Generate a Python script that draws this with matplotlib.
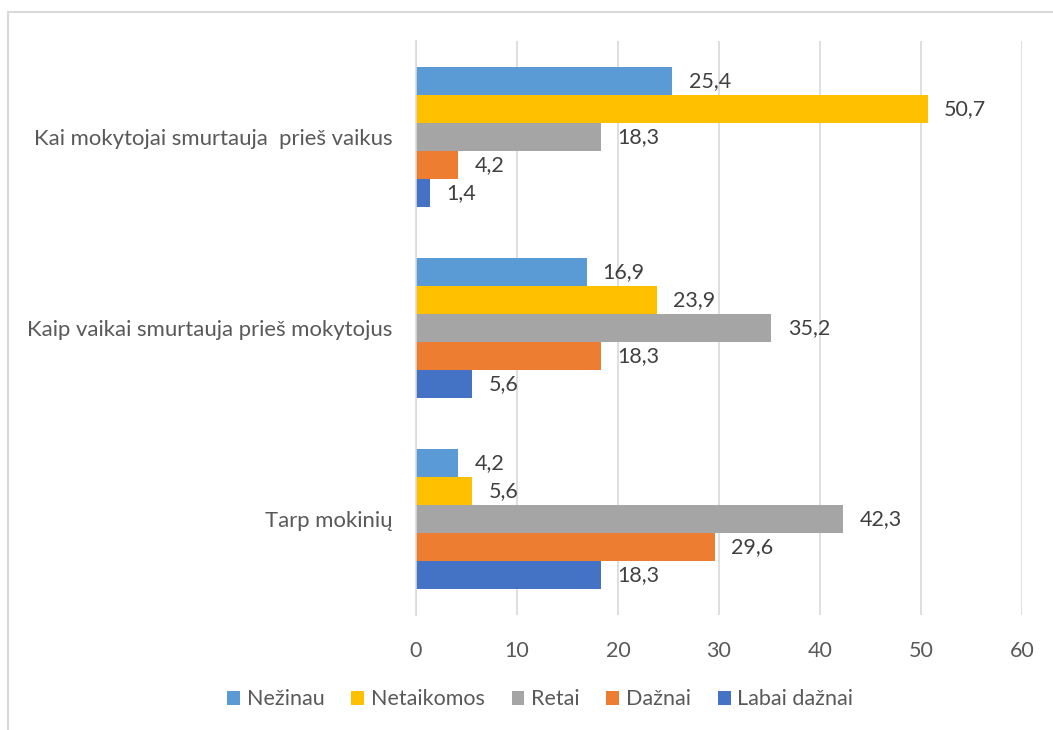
import numpy as np
import matplotlib
matplotlib.use('Agg')
import matplotlib.pyplot as plt
from matplotlib.patches import Rectangle

plt.rcParams['font.family'] = ['Lato', 'DejaVu Sans']

# duomenys
categories = ['Tarp mokinių', 'Kaip vaikai smurtauja prieš mokytojus', 'Kai mokytojai smurtauja  prieš vaikus']
series = ['Nežinau', 'Netaikomos', 'Retai', 'Dažnai', 'Labai dažnai']
nezinau = [4.2, 16.9, 25.4]
netaikomos = [5.6, 23.9, 50.7]
retai = [42.3, 35.2, 18.3]
dazniai = [29.6, 18.3, 4.2]
labai_dazniai = [18.3, 5.6, 1.4]
xticks = [0, 10, 20, 30, 40, 50, 60]

values = [nezinau, netaikomos, retai, dazniai, labai_dazniai]
colors = ['#5B9BD5', '#FFC000', '#A5A5A5', '#ED7D31', '#4472C4']
fs = 15.5

fig = plt.figure(figsize=(10.53, 7.3), dpi=100)
ax = fig.add_axes([0.395, 0.1575, 0.5755, 0.7863])

# rėmelis aplink diagramą
fig.patches.append(Rectangle((8 / 1053, -0.1), 1.2, 1 - 12 / 730 + 0.1, transform=fig.transFigure,
                             fill=False, edgecolor='#D9D9D9', linewidth=1.5))

y = np.arange(len(categories))
h = 0.1464
for i, (name, vals, c) in enumerate(zip(series, values, colors)):
    pos = y + (2 - i) * h
    ax.barh(pos, vals, height=h, color=c, label=name)
    for p, v in zip(pos, vals):
        ax.text(v + 1.6, p, f'{v:.1f}'.replace('.', ','), va='center', ha='left',
                fontsize=fs, color='#404040')

ax.set_xlim(0, 60)
ax.set_ylim(-0.5, 2.5)
ax.set_xticks(xticks)
ax.set_xticklabels([str(t) for t in xticks], fontsize=fs, color='#595959')
ax.set_yticks(y)
ax.set_yticklabels(categories, fontsize=15.9, color='#595959')
ax.tick_params(length=0)
ax.tick_params(axis='x', pad=19)
ax.tick_params(axis='y', pad=17)
ax.grid(axis='x', color='#D9D9D9', linewidth=1.2)
ax.set_axisbelow(True)
for s in ['top', 'right', 'bottom']:
    ax.spines[s].set_visible(False)
ax.spines['left'].set_color('#D9D9D9')
ax.spines['left'].set_linewidth(1.2)

ax.legend(loc='center', bbox_to_anchor=(0.513, 0.042), bbox_transform=fig.transFigure, ncol=5,
          frameon=False, fontsize=fs, handlelength=0.6, handleheight=0.6, handletextpad=0.3,
          columnspacing=1.25, labelcolor='#595959')

fig.savefig('out.png', dpi=100)
